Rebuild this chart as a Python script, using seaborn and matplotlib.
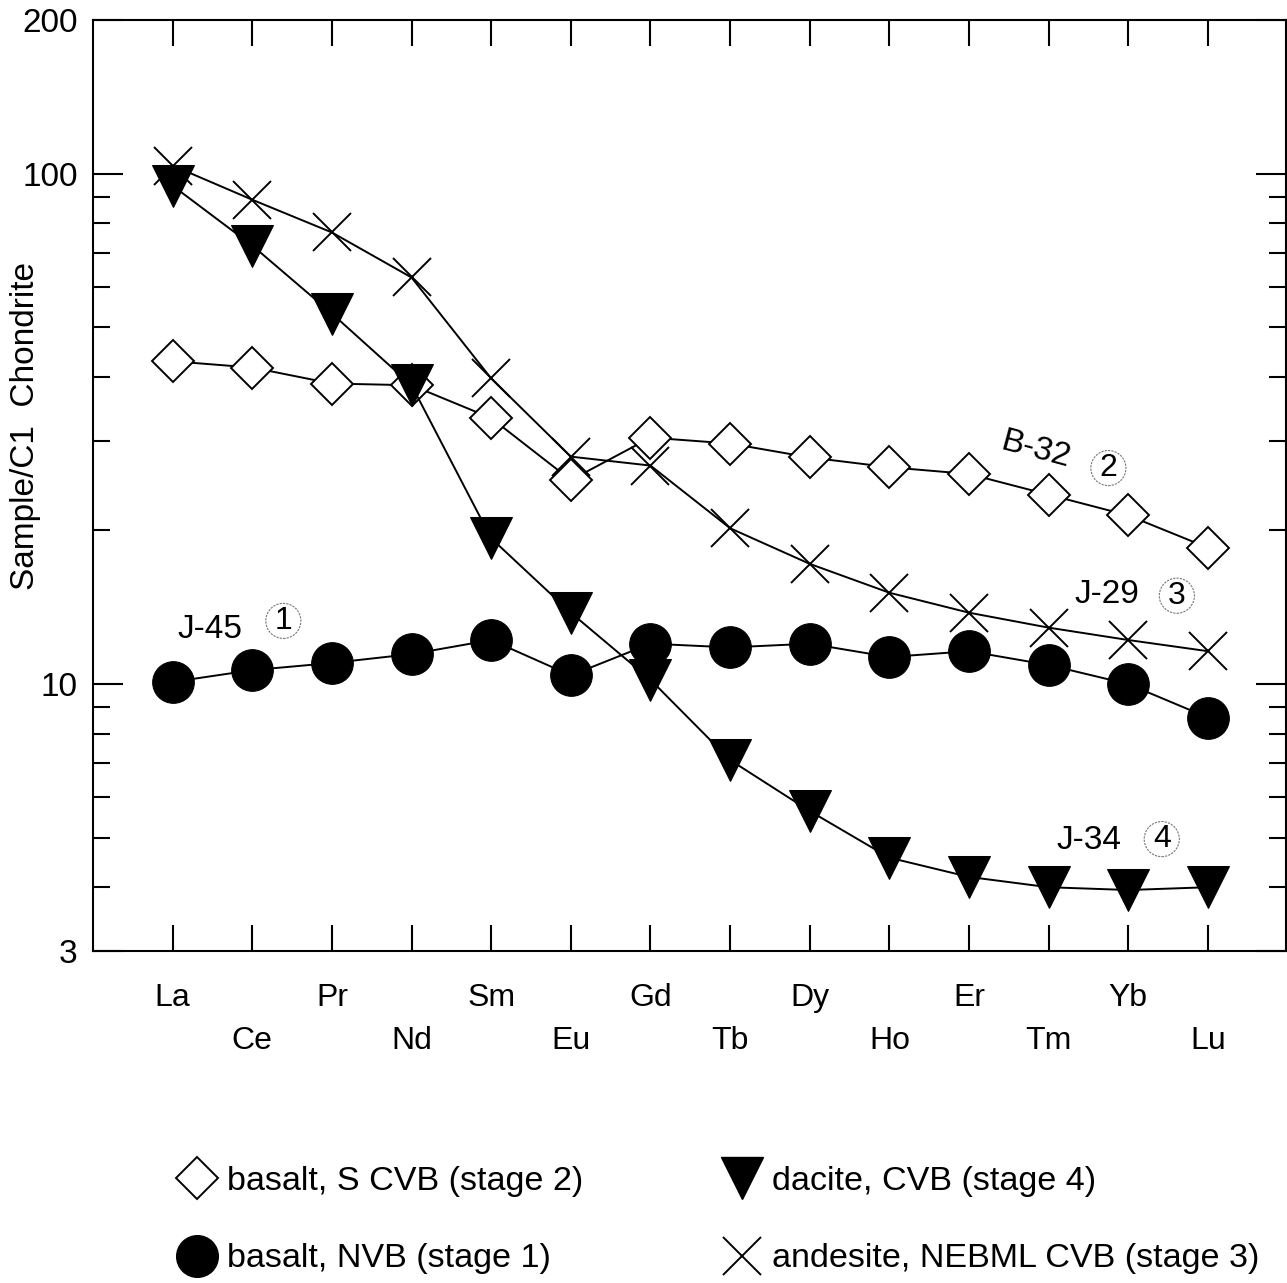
import numpy as np
import pandas as pd
import matplotlib
matplotlib.use("Agg")
import matplotlib.pyplot as plt
from matplotlib.lines import Line2D
from matplotlib.ticker import FixedLocator, NullFormatter
import seaborn as sns

# ---------------- data ----------------
elements = ["La", "Ce", "Pr", "Nd", "Sm", "Eu", "Gd", "Tb", "Dy", "Ho", "Er", "Tm", "Yb", "Lu"]

basalt_s_cvb = [42.9, 41.7, 38.8, 38.5, 33.2, 25.1, 30.4, 29.6, 27.8, 26.6, 25.8, 23.5, 21.4, 18.5]
basalt_nvb = [10.1, 10.65, 11.0, 11.45, 12.2, 10.4, 12.0, 11.8, 12.0, 11.3, 11.6, 10.9, 10.0, 8.6]
dacite_cvb = [94.7, 72.3, 53.2, 38.5, 19.3, 13.8, 10.2, 7.1, 5.64, 4.57, 4.19, 4.0, 3.95, 4.0]
andesite_nebml = [103.7, 88.9, 76.7, 62.6, 39.7, 27.9, 26.8, 20.2, 17.2, 15.1, 13.8, 12.9, 12.2, 11.6]

legend_labels = ["basalt, S CVB (stage 2)", "basalt, NVB (stage 1)",
                 "dacite, CVB (stage 4)", "andesite, NEBML CVB (stage 3)"]

y_major = [3, 10, 100, 200]
y_major_labels = ["3", "10", "100", "200"]
y_minor = [4, 5, 6, 7, 8, 9, 20, 30, 40, 50, 60, 70, 80, 90]

sample_labels = ["J-45", "B-32", "J-29", "J-34"]
sample_numbers = ["1", "2", "3", "4"]

# ---------------- style ----------------
sns.set_style("ticks")
plt.rcParams["font.family"] = ["Liberation Sans", "DejaVu Sans"]
plt.rcParams["axes.linewidth"] = 1.5
plt.rcParams["text.color"] = "black"
plt.rcParams["axes.labelcolor"] = "black"
plt.rcParams["xtick.color"] = "black"
plt.rcParams["ytick.color"] = "black"

fig = plt.figure(figsize=(12.87, 12.83), dpi=100)
ax = fig.add_axes([93 / 1287, 1 - 951 / 1283, (1286 - 93) / 1287, (951 - 20) / 1283])

idx = np.arange(len(elements))
df = pd.DataFrame({"idx": idx, "s2": basalt_s_cvb, "s1": basalt_nvb,
                   "s4": dacite_cvb, "s3": andesite_nebml})

lw = 1.4
sns.lineplot(data=df, x="idx", y="s3", ax=ax, color="black", lw=lw, marker="x",
             markersize=28, markeredgewidth=1.4, markeredgecolor="black",
             sort=False, zorder=3)
sns.lineplot(data=df, x="idx", y="s2", ax=ax, color="black", lw=lw, marker="D",
             markersize=21.5, markerfacecolor="white", markeredgecolor="black",
             markeredgewidth=1.4, sort=False, zorder=4)
sns.lineplot(data=df, x="idx", y="s1", ax=ax, color="black", lw=lw, marker="o",
             markersize=30, markerfacecolor="black", markeredgecolor="black",
             sort=False, zorder=5)
sns.lineplot(data=df, x="idx", y="s4", ax=ax, color="black", lw=lw, marker="v",
             markersize=30, markerfacecolor="black", markeredgecolor="black",
             sort=False, zorder=6)

ax.set_yscale("log")
ax.set_ylim(3, 200)
ax.set_xlim(-1.0, 13.98)

ax.yaxis.set_major_locator(FixedLocator(y_major))
ax.set_yticklabels(y_major_labels)
ax.yaxis.set_minor_locator(FixedLocator(y_minor))
ax.yaxis.set_minor_formatter(NullFormatter())

ax.set_xticks(idx)
xlabels = [e if i % 2 == 0 else "\n" + e for i, e in enumerate(elements)]
ax.set_xticklabels(xlabels)
for t in ax.get_xticklabels():
    t.set_linespacing(1.55)

ax.tick_params(axis="x", which="major", direction="in", length=19, width=1.5,
               top=True, bottom=True, labelsize=23, pad=23)
ax.tick_params(axis="x", which="minor", bottom=False, top=False)
ax.tick_params(axis="y", which="major", direction="in", length=21.5, width=1.5,
               left=True, right=True, labelsize=24, pad=11)
ax.tick_params(axis="y", which="minor", direction="in", length=12, width=1.5,
               left=True, right=True)

for s in ax.spines.values():
    s.set_color("black")
    s.set_linewidth(1.5)

ax.set_xlabel("")
ax.set_ylabel("Sample/C1  Chondrite", fontsize=24)
ax.yaxis.set_label_coords(-0.044, 0.564)

# ---------------- annotations ----------------
txt_pos = [(0.47, 12.8, 0), (10.84, 28.7, -15), (11.73, 15.0, 0), (11.51, 4.93, 0)]
num_pos = [(1.39, 13.3), (11.75, 26.5), (12.61, 14.9), (12.42, 4.97)]
for (tx, ty, rot), lab in zip(txt_pos, sample_labels):
    ax.text(tx, ty, lab, fontsize=24, ha="center", va="center", rotation=rot, zorder=10)
for (nx, ny), n in zip(num_pos, sample_numbers):
    ax.text(nx, ny, n, fontsize=23, ha="center", va="center", zorder=10,
            bbox=dict(boxstyle="circle,pad=0.08", fc="none", ec="#777777", lw=0.8,
                      ls=(0, (2, 1))))

# ---------------- legend ----------------
handles = [
    Line2D([], [], ls="none", marker="D", markersize=21.5, markerfacecolor="white",
           markeredgecolor="black", markeredgewidth=1.4),
    Line2D([], [], ls="none", marker="o", markersize=30, markerfacecolor="black",
           markeredgecolor="black"),
    Line2D([], [], ls="none", marker="v", markersize=30, markerfacecolor="black",
           markeredgecolor="black"),
    Line2D([], [], ls="none", marker="x", markersize=28, markeredgewidth=1.4,
           color="black"),
]
fig.legend(handles, legend_labels, loc="upper left",
           bbox_to_anchor=(173 / 1287, 1 - 1166 / 1283),
           ncol=2, frameon=False, fontsize=24.6, handlelength=1.4, handletextpad=0.18,
           columnspacing=3.95, labelspacing=1.36, borderpad=0, borderaxespad=0)

fig.savefig("out.png", dpi=100)
